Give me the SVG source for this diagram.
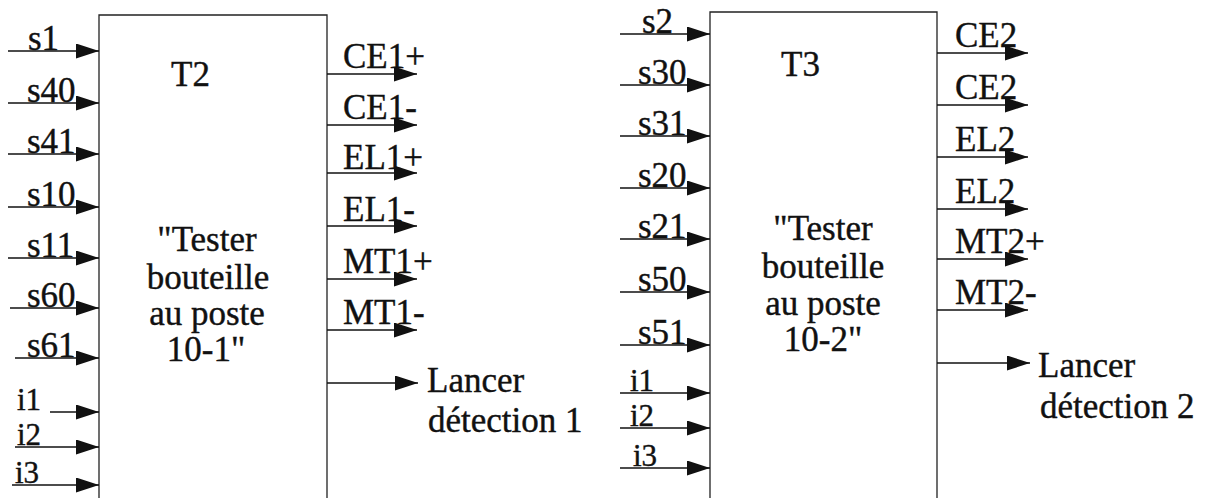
<svg xmlns="http://www.w3.org/2000/svg" width="1209" height="498" viewBox="0 0 1209 498">
<defs>
<style>
text{font-family:"Liberation Serif","Times New Roman",serif;font-size:35px;fill:#111;stroke:#111;stroke-width:0.4}
text.i{font-size:31px}
.ln{stroke:#111;stroke-width:1.5;fill:none}
.box{stroke:#222;stroke-width:1.3;fill:none}
.mid{text-anchor:middle}
</style>
<marker id="ah" markerUnits="userSpaceOnUse" markerWidth="24" markerHeight="16" refX="23" refY="7.5" orient="auto">
<path d="M0,0 L23,7.5 L0,15 Z" fill="#111"/>
</marker>
</defs>
<rect width="1209" height="498" fill="#fff"/>
<g id="T2">
<path class="box" d="M99,500 V15 H327 V500"/>
<text x="171" y="86">T2</text>
<text class="mid" x="207" y="251">"Tester</text>
<text class="mid" x="208" y="289">bouteille</text>
<text class="mid" x="207" y="325">au poste</text>
<text class="mid" x="206" y="361">10-1"</text>
</g>
<g id="T3">
<path class="box" d="M710,500 V12 H937 V500"/>
<text x="781" y="76">T3</text>
<text class="mid" x="823" y="240">"Tester</text>
<text class="mid" x="823" y="278">bouteille</text>
<text class="mid" x="823" y="315">au poste</text>
<text class="mid" x="823" y="351">10-2"</text>
</g>
<g id="labels">
<text x="28" y="50">s1</text>
<text x="27" y="102">s40</text>
<text x="27" y="153">s41</text>
<text x="27" y="206">s10</text>
<text x="27" y="257">s11</text>
<text x="27" y="307">s60</text>
<text x="27" y="357">s61</text>
<text class="i" x="17" y="410">i1</text>
<text class="i" x="17" y="445">i2</text>
<text class="i" x="15" y="483">i3</text>
<text x="343" y="68">CE1+</text>
<text x="343" y="119">CE1-</text>
<text x="343" y="169">EL1+</text>
<text x="343" y="221">EL1-</text>
<text x="343" y="273">MT1+</text>
<text x="343" y="324">MT1-</text>
<text x="427" y="392">Lancer</text>
<text x="428" y="432">détection 1</text>
<text x="642" y="33">s2</text>
<text x="638" y="84">s30</text>
<text x="638" y="135">s31</text>
<text x="638" y="187">s20</text>
<text x="638" y="238">s21</text>
<text x="638" y="291">s50</text>
<text x="638" y="344">s51</text>
<text class="i" x="630" y="391">i1</text>
<text class="i" x="630" y="426">i2</text>
<text class="i" x="633" y="466">i3</text>
<text x="955" y="47">CE2</text>
<text x="955" y="99">CE2</text>
<text x="955" y="151">EL2</text>
<text x="955" y="203">EL2</text>
<text x="955" y="253">MT2+</text>
<text x="955" y="304">MT2-</text>
<text x="1038" y="377">Lancer</text>
<text x="1040" y="418">détection 2</text>
</g>
<g id="connectors" class="ln" marker-end="url(#ah)">
<line x1="8" y1="51" x2="99" y2="51"/>
<line x1="8" y1="103" x2="99" y2="103"/>
<line x1="8" y1="154" x2="99" y2="154"/>
<line x1="8" y1="207" x2="99" y2="207"/>
<line x1="8" y1="258" x2="99" y2="258"/>
<line x1="10" y1="308" x2="99" y2="308"/>
<line x1="15" y1="358" x2="99" y2="358"/>
<line x1="50" y1="412" x2="99" y2="412"/>
<line x1="15" y1="447" x2="99" y2="447"/>
<line x1="12" y1="485" x2="99" y2="485"/>
<line x1="327" y1="74" x2="417" y2="74"/>
<line x1="327" y1="125" x2="417" y2="125"/>
<line x1="327" y1="173" x2="417" y2="173"/>
<line x1="327" y1="226" x2="417" y2="226"/>
<line x1="327" y1="279" x2="417" y2="279"/>
<line x1="327" y1="330" x2="417" y2="330"/>
<line x1="327" y1="383" x2="418" y2="383"/>
<line x1="620" y1="34" x2="710" y2="34"/>
<line x1="620" y1="85" x2="710" y2="85"/>
<line x1="620" y1="136" x2="710" y2="136"/>
<line x1="620" y1="188" x2="710" y2="188"/>
<line x1="620" y1="239" x2="710" y2="239"/>
<line x1="620" y1="292" x2="710" y2="292"/>
<line x1="620" y1="345" x2="710" y2="345"/>
<line x1="620" y1="393" x2="710" y2="393"/>
<line x1="620" y1="428" x2="710" y2="428"/>
<line x1="620" y1="468" x2="710" y2="468"/>
<line x1="937" y1="53" x2="1028" y2="53"/>
<line x1="937" y1="105" x2="1028" y2="105"/>
<line x1="937" y1="157" x2="1028" y2="157"/>
<line x1="937" y1="209" x2="1028" y2="209"/>
<line x1="937" y1="259" x2="1028" y2="259"/>
<line x1="937" y1="310" x2="1028" y2="310"/>
<line x1="937" y1="363" x2="1030" y2="363"/>
</g>
</svg>
